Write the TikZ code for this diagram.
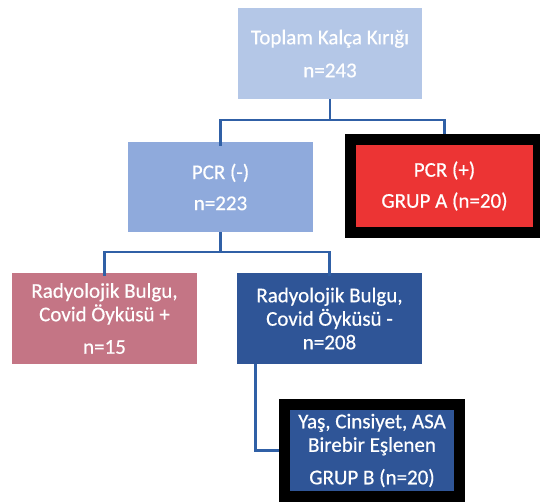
\documentclass[tikz,border=0pt]{standalone}
\usepackage{fontspec}
\setmainfont{Carlito}
\newfontfamily\boxfont{Carlito}[FakeBold=0.5]
\definecolor{lightblue}{HTML}{B4C7E7}
\definecolor{midblue}{HTML}{8FAADC}
\definecolor{pinkbox}{HTML}{C47585}
\definecolor{darkblue}{HTML}{2F5597}
\definecolor{redbox}{HTML}{EC3434}
\definecolor{linkblue}{HTML}{3060A6}
\begin{document}
\begin{tikzpicture}[x=1pt,y=-1pt,
  box/.style={rectangle, inner sep=0pt, align=center, text=white,
    font=\boxfont\fontsize{21}{23.5}\selectfont},
  framed/.style={box, draw=black, line width=11pt},
  conn/.style={draw=linkblue, line width=2.8pt}]
\useasboundingbox (0,0) rectangle (540,501);
\node[box, fill=lightblue, minimum width=184pt, minimum height=91pt] (top) at (330,53.5)
  {Toplam Kalça Kırığı\\[9.5pt]n=243};
\node[box, fill=midblue, minimum width=185pt, minimum height=90pt] (neg) at (220.5,187)
  {PCR (-)\\[7.5pt]n=223};
\node[framed, fill=redbox, minimum width=188pt, minimum height=93pt] (pos) at (444.5,186)
  {PCR (+)\\[7.5pt]GRUP A (n=20)};
\node[box, fill=pinkbox, minimum width=185pt, minimum height=91pt] (pink) at (104.5,318.5)
  {Radyolojik Bulgu,\\Covid Öyküsü +\\[9pt]n=15};
\node[box, fill=darkblue, minimum width=185pt, minimum height=91pt] (dark) at (329.5,318.5)
  {Radyolojik Bulgu,\\Covid Öyküsü -\\n=208};
\node[framed, fill=darkblue, minimum width=175pt, minimum height=92pt] (grb) at (372,450.5)
  {Yaş, Cinsiyet, ASA\\Birebir Eşlenen\\[9pt]GRUP B (n=20)};
\coordinate (j1) at (330,120);
\coordinate (j2) at (220.5,252);
\coordinate (d0) at ([xshift=19pt]dark.south west);
\draw[conn] (top.south) -- (j1) -| ([yshift=-4pt]neg.north);
\draw[conn] (j1) -| (pos.north);
\draw[conn] (neg.south) -- (j2) -| ([yshift=-3pt]pink.north);
\draw[conn] (j2) -| ([yshift=-3pt]dark.north);
\draw[conn] (d0) |- (grb.west);
\end{tikzpicture}
\end{document}
